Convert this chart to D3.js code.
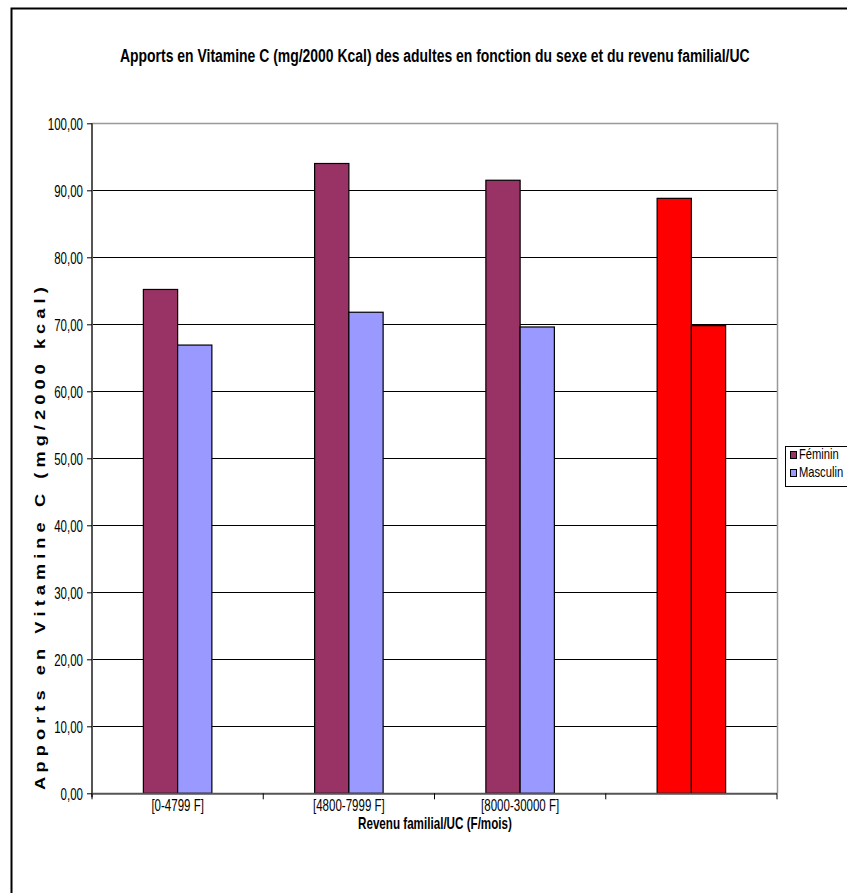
<!DOCTYPE html>
<html><head><meta charset="utf-8">
<script src="https://cdn.jsdelivr.net/npm/d3@7"></script>
<style>html,body{margin:0;padding:0;background:#fff;}svg{display:block;}</style>
</head><body>
<svg id="chart" width="847" height="893"></svg>
<script>
const categories = ["[0-4799 F]", "[4800-7999 F]", "[8000-30000 F]", ""];
const feminin = [75.2, 94.0, 91.5, 88.8];
const masculin = [66.9, 71.8, 69.6, 69.8];
const highlighted = [false, false, false, true];
const seriesNames = ["Féminin", "Masculin"];
const yTicks = [0, 10, 20, 30, 40, 50, 60, 70, 80, 90, 100];
const titleText = "Apports en Vitamine C (mg/2000 Kcal) des adultes en fonction du sexe et du revenu familial/UC";
const xTitle = "Revenu familial/UC (F/mois)";
const yTitle = "A p p o r t s   e n   V i t a m i n e   C   ( m g / 2 0 0 0   k c a l )";

const colors = {f: "#993366", m: "#9999FF", hi: "#FF0000"};
const FONT = "Arial, 'Liberation Sans', sans-serif";
const SX = 0.72;

const svg = d3.select("#chart");
const L = 92, R = 777, T = 123.3, B = 793.3;

// outer chart border (extends past window on right/bottom)
svg.append("rect").attr("x", 11.5).attr("y", 8.5).attr("width", 900).attr("height", 950)
  .attr("fill", "none").attr("stroke", "#000").attr("stroke-width", 2);

const x = d3.scaleBand().domain(categories.map((d, i) => i)).range([L, R]).padding(0);
const inner = d3.scaleBand().domain(["f", "m"]).range([x.bandwidth() * 0.3, x.bandwidth() * 0.7]).padding(0);
const y = d3.scaleLinear().domain([0, 100]).range([B, T]);

// gridlines
svg.append("g").selectAll("line").data(yTicks.filter(d => d > 0 && d < 100)).join("line")
  .attr("x1", L).attr("x2", R).attr("y1", d => Math.round(y(d)) + 0.5).attr("y2", d => Math.round(y(d)) + 0.5)
  .attr("stroke", "#000").attr("stroke-width", 1);

// plot area top/right border (gray)
svg.append("path").attr("d", `M${L},${Math.round(T) + 0.5}H${R + 0.5}V${B}`)
  .attr("fill", "none").attr("stroke", "#999").attr("stroke-width", 1.5);

// bars
const data = categories.map((c, i) => ({i, f: feminin[i], m: masculin[i], hi: highlighted[i]}));
const g = svg.append("g");
data.forEach(d => {
  ["f", "m"].forEach(k => {
    g.append("rect")
      .attr("x", x(d.i) + inner(k))
      .attr("y", y(d[k]))
      .attr("width", inner.bandwidth())
      .attr("height", y(0) - y(d[k]))
      .attr("fill", d.hi ? colors.hi : colors[k])
      .attr("stroke", "#000").attr("stroke-width", 1.2);
  });
});

// y axis
const yAxis = d3.axisLeft(y).tickValues(yTicks).tickSize(5).tickPadding(4)
  .tickFormat(d => d3.format(".2f")(d).replace(".", ","));
const ya = svg.append("g").attr("transform", `translate(${L},0)`).call(yAxis);
ya.select(".domain").attr("stroke", "#555").attr("stroke-width", 2).attr("d", `M0,${T}V${B + 4}`);
ya.selectAll(".tick line").attr("stroke", "#000");
ya.selectAll(".tick text").attr("font-family", FONT).attr("font-size", 16).attr("fill", "#000")
  .attr("x", 0).attr("dy", null).attr("y", 0)
  .attr("transform", "translate(-9,6) scale(" + SX + ",1)");

// x axis (boundary ticks)
const xa = svg.append("g").attr("transform", `translate(0,${B})`);
xa.append("line").attr("x1", L).attr("x2", R).attr("y1", 0.5).attr("y2", 0.5).attr("stroke", "#555").attr("stroke-width", 2);
xa.selectAll("line.tk").data(categories.map((c, i) => i).concat([categories.length])).join("line")
  .attr("class", "tk")
  .attr("x1", i => i < categories.length ? x(i) : R).attr("x2", i => i < categories.length ? x(i) : R)
  .attr("y1", 0).attr("y2", 6).attr("stroke", "#000").attr("stroke-width", 1);
xa.selectAll("text").data(data).join("text")
  .attr("transform", d => `translate(${x(d.i) + x.bandwidth() / 2},18) scale(${SX},1)`)
  .attr("text-anchor", "middle").attr("font-family", FONT).attr("font-size", 16)
  .text(d => categories[d.i]);

// helper: fit text to width by horizontal scaling
function fitText(sel, x0, y0, width) {
  const w = sel.node().getComputedTextLength();
  sel.attr("transform", `translate(${x0},${y0}) scale(${width / w},1)`);
}

// titles
const tt = svg.append("text").attr("font-family", FONT).attr("font-weight", "bold")
  .attr("font-size", 18).text(titleText);
fitText(tt, 120, 62, 630);
const xt = svg.append("text").attr("font-family", FONT).attr("font-weight", "bold")
  .attr("font-size", 17).text(xTitle);
fitText(xt, 358, 829, 154);
const yt = svg.append("text").attr("font-family", FONT).attr("font-weight", "bold").attr("font-size", 15)
  .style("white-space", "pre").text(yTitle);
{
  const w = yt.node().getComputedTextLength();
  yt.attr("transform", `translate(45,790) rotate(-90) scale(${503 / w},1)`);
}

// legend
const lg = svg.append("g");
lg.append("rect").attr("x", 785.5).attr("y", 446.5).attr("width", 80).attr("height", 40)
  .attr("fill", "#fff").attr("stroke", "#000").attr("stroke-width", 1);
seriesNames.forEach((name, i) => {
  const yy = 451 + i * 18;
  lg.append("rect").attr("x", 790.5).attr("y", yy + 0.5).attr("width", 6).attr("height", 7)
    .attr("fill", i === 0 ? colors.f : colors.m).attr("stroke", "#000").attr("stroke-width", 1);
  lg.append("text").attr("transform", `translate(799,${yy + 8}) scale(0.8,1)`)
    .attr("font-family", FONT).attr("font-size", 14).text(name);
});
</script>
</body></html>
